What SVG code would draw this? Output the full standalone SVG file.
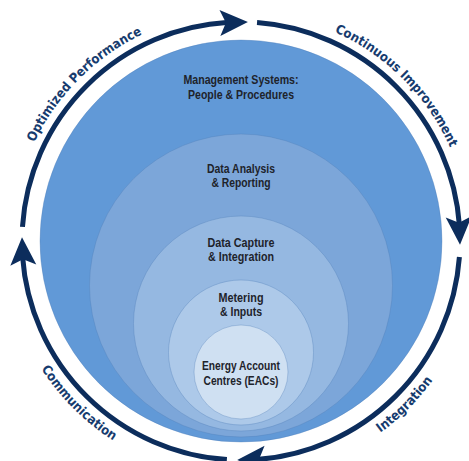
<svg xmlns="http://www.w3.org/2000/svg" width="469" height="461" viewBox="0 0 469 461">
  <style>
    .ring { fill: none; stroke: #0c2d5c; stroke-width: 5; stroke-linecap: butt; }
    .head { fill: #0c2d5c; }
    .lbl { font-family: "DejaVu Sans Condensed", "Liberation Sans", sans-serif; font-weight: bold; font-size: 13px; fill: #163b6e; }
    .in { font-family: "Liberation Sans", Arial, sans-serif; font-weight: bold; font-size: 12px; fill: #1e232b; text-anchor: middle; }
    .disc { stroke: #4f7fb8; stroke-opacity: 0.35; stroke-width: 1; }
  </style>
  <defs>
    <path id="ah" d="M0,0 L-28,-13 L-22,0 L-28,13 Z"/>
    <path id="pTL" d="M12,241 A229 229 0 0 1 241,12"/>
    <path id="pTR" d="M241,12 A229 229 0 0 1 470,241"/>
    <path id="pBR" d="M241,478 A237 237 0 0 0 478,241"/>
    <path id="pBL" d="M4,241 A237 237 0 0 0 241,478"/>
  </defs>

  <g id="level-management">
    <circle class="disc" cx="241" cy="241" r="201" fill="#6199d7"/>
    <text class="in" x="241" y="84" textLength="115" lengthAdjust="spacingAndGlyphs">Management Systems:</text>
    <text class="in" x="241" y="99" textLength="106" lengthAdjust="spacingAndGlyphs">People &amp; Procedures</text>
  </g>
  <g id="level-analysis">
    <circle class="disc" cx="241" cy="285.5" r="151.5" fill="#7ca6d9"/>
    <text class="in" x="241" y="173" textLength="68" lengthAdjust="spacingAndGlyphs">Data Analysis</text>
    <text class="in" x="241" y="187" textLength="59" lengthAdjust="spacingAndGlyphs">&amp; Reporting</text>
  </g>
  <g id="level-capture">
    <circle class="disc" cx="241" cy="323.5" r="107.5" fill="#95b8e1"/>
    <text class="in" x="241" y="247" textLength="67" lengthAdjust="spacingAndGlyphs">Data Capture</text>
    <text class="in" x="241" y="261" textLength="66" lengthAdjust="spacingAndGlyphs">&amp; Integration</text>
  </g>
  <g id="level-metering">
    <circle class="disc" cx="241" cy="352.5" r="72.5" fill="#adc9e9"/>
    <text class="in" x="241" y="302" textLength="45" lengthAdjust="spacingAndGlyphs">Metering</text>
    <text class="in" x="241" y="316" textLength="42" lengthAdjust="spacingAndGlyphs">&amp; Inputs</text>
  </g>
  <g id="level-eac">
    <circle class="disc" cx="241" cy="372" r="47" fill="#cfe0f2"/>
    <text class="in" x="241" y="370" textLength="78" lengthAdjust="spacingAndGlyphs">Energy Account</text>
    <text class="in" x="241" y="385" textLength="75" lengthAdjust="spacingAndGlyphs">Centres (EACs)</text>
  </g>

  <g id="connectors">
    <path class="ring" d="M22.46,226.87 A219 219 0 0 1 228.78,22.34"/>
    <use href="#ah" class="head" transform="translate(247.9,22.1) rotate(-1.86)"/>
    <path class="ring" d="M257.04,22.59 A219 219 0 0 1 459.47,225.72"/>
    <use href="#ah" class="head" transform="translate(460,244.8) rotate(87.34)"/>
    <path class="ring" d="M459.41,257.04 A219 219 0 0 1 256.28,459.47"/>
    <use href="#ah" class="head" transform="translate(237.2,460) rotate(177.34)"/>
    <path class="ring" d="M226.87,459.54 A219 219 0 0 1 22.53,256.28"/>
    <use href="#ah" class="head" transform="translate(22,237.2) rotate(267.34)"/>
  </g>

  <g id="ring-labels">
    <text class="lbl"><textPath href="#pTL" startOffset="50%" text-anchor="middle">Optimized Performance</textPath></text>
    <text class="lbl"><textPath href="#pTR" startOffset="50%" text-anchor="middle">Continuous Improvement</textPath></text>
    <text class="lbl"><textPath href="#pBR" startOffset="50%" text-anchor="middle">Integration</textPath></text>
    <text class="lbl"><textPath href="#pBL" startOffset="50%" text-anchor="middle">Communication</textPath></text>
  </g>
</svg>
